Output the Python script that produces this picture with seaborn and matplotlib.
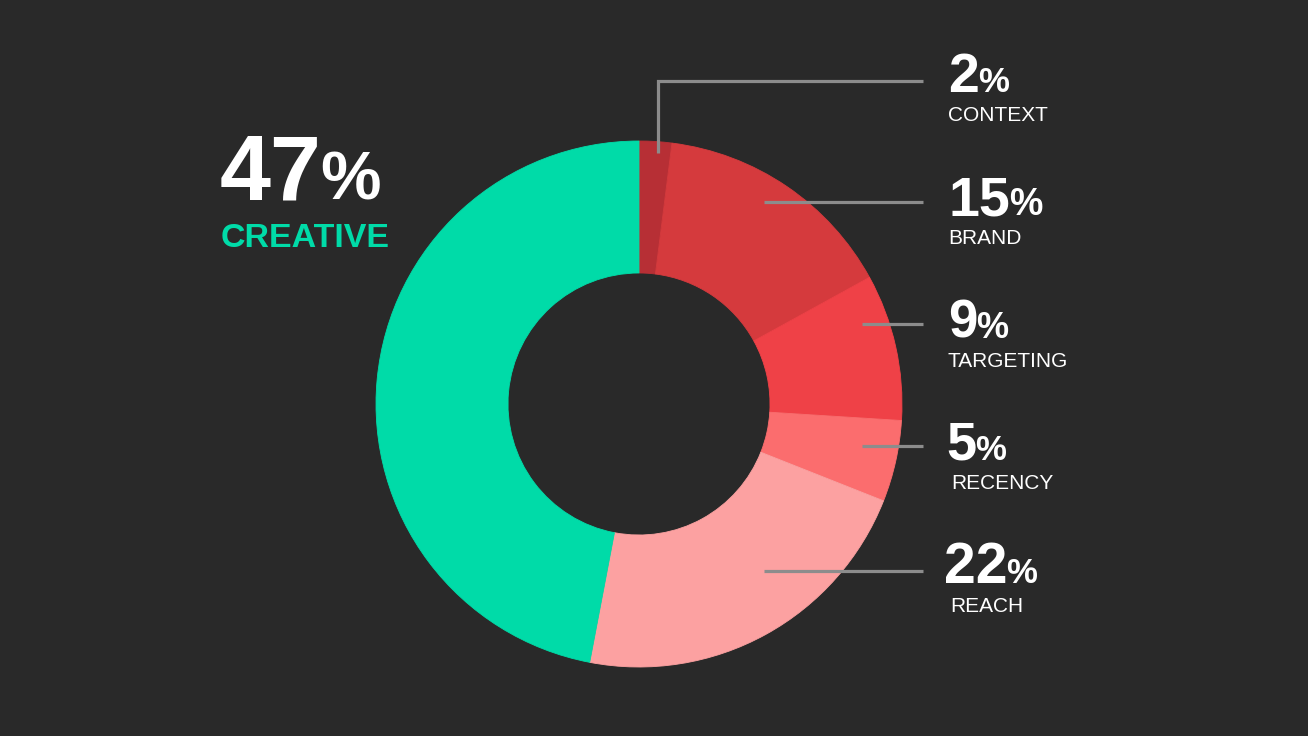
import matplotlib
matplotlib.use("Agg")
import matplotlib.pyplot as plt
import seaborn as sns

# data
categories = ["CONTEXT", "BRAND", "TARGETING", "RECENCY", "REACH", "CREATIVE"]
shares = [2, 15, 9, 5, 22, 47]
colors = ["#b72f35", "#d53a3d", "#ef4147", "#fb6d6e", "#fca1a1", "#00dba8"]

# layout (pixels, y measured from top)
W, H = 1308, 736
center = (639, 404)
r_out, r_in = 263, 131
label_x = [948, 948, 948, 946, 944]
label_base = [92, 215, 338, 460, 583]
name_x = [948, 948, 948, 951, 950]
name_base = [121, 244, 367, 489, 612]
line_start = [(658, 153), (764, 202), (862, 324), (862, 446), (764, 571)]
line_y = [81, 202, 324, 446, 571]
line_end = 923
num_size = [40, 40, 38, 39, 41]
pct_size = [25, 27, 26, 25, 25]

BG = "#292929"
GRAY = "#8c8c8c"

sns.set_theme(style="white")
plt.rcParams["font.family"] = ["Liberation Sans", "DejaVu Sans"]

fig = plt.figure(figsize=(W / 100, H / 100), dpi=100, facecolor=BG)
ax = fig.add_axes([0, 0, 1, 1])
ax.set_facecolor(BG)

ax.pie(shares, colors=colors, startangle=90, counterclock=False,
       radius=r_out, center=(center[0], H - center[1]),
       wedgeprops=dict(width=r_out - r_in, linewidth=0.6))
for w, c in zip(ax.patches, colors):
    w.set_edgecolor(c)
ax.set_xlim(0, W)
ax.set_ylim(0, H)
ax.set_aspect("equal")
ax.axis("off")


def yy(y):
    return H - y


def percent_label(x, base, value, size, psize, color="white", gap=-1):
    t = ax.text(x, yy(base), str(value), fontsize=size, fontweight="bold",
                color=color, ha="left", va="baseline")
    fig.canvas.draw()
    bb = t.get_window_extent()
    ax.text(bb.x1 + gap, yy(base), "%", fontsize=psize, fontweight="bold",
            color=color, ha="left", va="baseline")


# connector lines
for i, (sx, sy) in enumerate(line_start):
    if sy != line_y[i]:
        ax.plot([sx, sx, line_end], [yy(sy), yy(line_y[i]), yy(line_y[i])],
                color=GRAY, lw=2.3, solid_capstyle="butt", solid_joinstyle="miter")
    else:
        ax.plot([sx, line_end], [yy(sy), yy(sy)], color=GRAY, lw=2.3,
                solid_capstyle="butt")

for i in range(5):
    percent_label(label_x[i], label_base[i], shares[i], num_size[i], pct_size[i])
    ax.text(name_x[i], yy(name_base[i]), categories[i], fontsize=15,
            color="white", ha="left", va="baseline")

# big CREATIVE label
percent_label(220, 200, shares[5], 66, 49, gap=-2)
ax.text(221, yy(247), categories[5], fontsize=24.5, fontweight="bold",
        color=colors[5], ha="left", va="baseline")

fig.savefig("out.png", dpi=100, facecolor=BG)
